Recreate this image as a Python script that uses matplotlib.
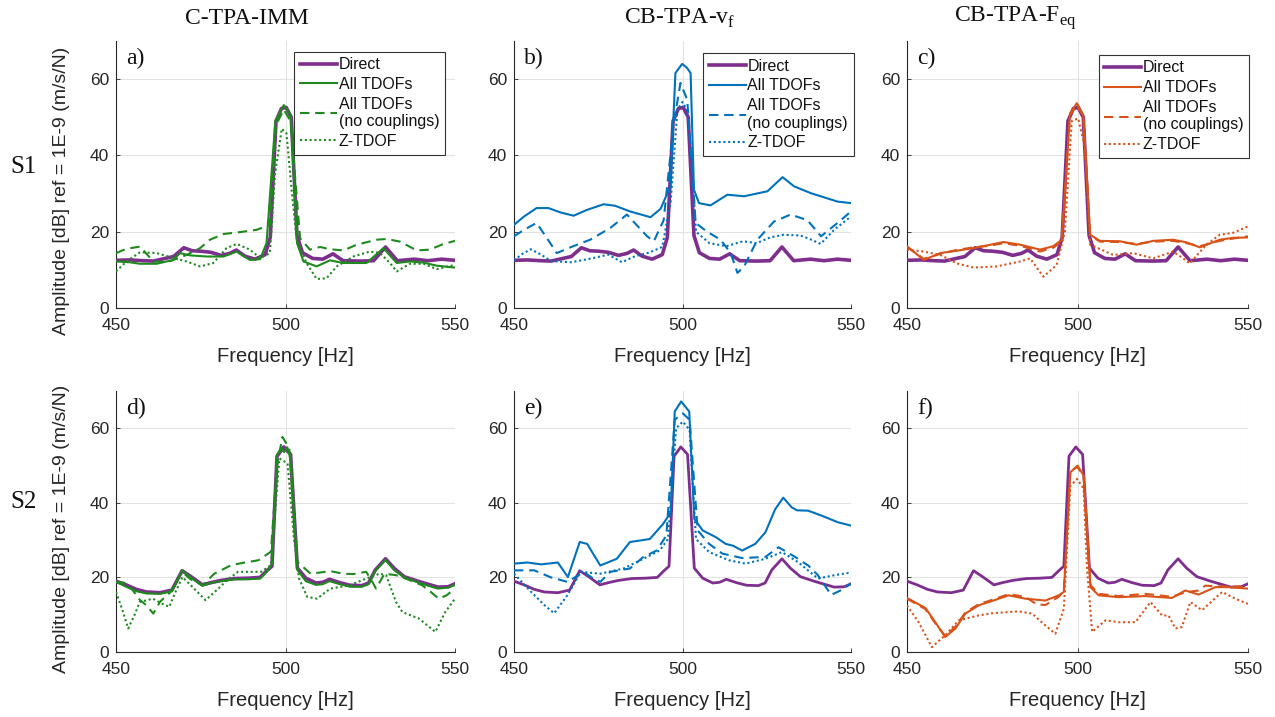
import numpy as np
import matplotlib
matplotlib.use("Agg")
import matplotlib.pyplot as plt

# ---------------- data (frequency [Hz], amplitude [dB]) ----------------
direct_s1 = [(450,12.5),(454,12.6),(458,12.4),(461,12.3),(464,12.9),(467,13.5),(470,15.8),(472.5,15.0),
             (475,14.9),(478,14.6),(481,13.8),(483.5,14.3),(485.5,15.2),(488,13.6),(491,12.8),(494,14),
             (495.5,18.5),(497.2,49),(498.8,52.3),(500.2,52.6),(501.7,50),(503.4,19),(505,14.5),(508,13),
             (511,12.8),(514,14.2),(517,12.4),(522,12.3),(526,12.4),(529.5,16.0),(533,12.4),(538,12.8),
             (542,12.4),(546,12.8),(550,12.5)]
direct_s2 = [(450,19),(453,18),(456,16.8),(459,16.1),(463,15.9),(466.5,16.6),(469.5,21.8),(472,20.3),
             (475.5,18),(478,18.6),(481,19.2),(485,19.7),(489,19.8),(492.5,20),(494.5,21.8),(496,23),
             (497.5,52.5),(499.5,55),(501.5,53),(503.5,22.5),(506,19.8),(509,18.5),(511,18.7),(513,19.5),
             (516,18.6),(519,17.9),(522.5,17.8),(524.5,18.5),(526.5,22),(529.5,25),(532,22.5),(535,20.2),
             (539,19),(542,18.2),(545,17.4),(548,17.5),(550,18.3)]

# a) C-TPA-IMM, S1
a_all = [(450,12.2),(454,12),(457,11.6),(462,11.6),(466.9,12.6),(468.9,14.4),(471.8,13.8),(476.7,13.5),
         (481.7,13.5),(485.6,14.8),(489.5,12.6),(492.5,12.8),(494.4,17),(497,49),(499.5,53.2),(501.6,50.5),
         (503.4,17),(505.3,12.2),(509.2,10.9),(513.1,12.5),(517.1,11.8),(523.9,11.8),(528.9,15.7),
         (532.8,11.8),(536.7,12.2),(540.7,11.9),(544.6,11.1),(550,10.6)]
a_nocpl = [(450,14.4),(453,15.5),(457.1,16.1),(461,12.2),(465,12),(470.8,13.9),(474.8,15.7),(477.7,17.9),
           (481.7,19.4),(486.6,19.9),(491.5,20.5),(495.4,21.8),(497.2,48),(499.5,52),(501.5,49),(504.3,18.3),
           (507.2,15.3),(510.2,16),(513.1,15.4),(517.1,15.1),(521,16.6),(526.9,17.9),(529.8,18.1),
           (533.8,17.4),(538.7,15.1),(542.6,15.3),(546.6,16.8),(550,17.6)]
a_z = [(450,9.6),(453.1,12.2),(457.1,14.6),(462,14.4),(466.9,13.1),(470.8,12.2),(474.8,10.9),(478.7,11.8),
       (482.6,15.7),(485.6,16.8),(489.5,15.3),(492.5,13.1),(495.4,14.4),(496.9,35),(498.9,47),(500.3,45.8),
       (501.8,31),(503.3,17.9),(506.2,11.8),(509.2,7.6),(512.1,7.8),(515.1,10.9),(520,13.5),(524.9,14.8),
       (527.9,14.4),(530.8,11.8),(532.8,9.6),(536.7,11.6),(540.7,11.6),(544.6,10.2),(550,11.3)]

# b) CB-TPA-vf, S1
b_all = [(450,21.8),(453,24),(456.7,26.2),(460.2,26.2),(464,25),(467.7,24.2),(471.6,25.7),(476.6,27.2),
         (480,26.8),(484.5,25.3),(490.5,23.8),(493.5,26),(496.4,31.9),(497.9,61.6),(499.9,64),(501.3,63),
         (502.4,61.6),(503.4,31),(504.9,27.5),(508.3,26.9),(513.3,29.7),(518.3,29.3),(525.2,30.6),
         (529.7,34.3),(533.1,31.9),(538.1,30.1),(546,27.9),(550,27.5)]
b_nocpl = [(450,18.8),(453,20.5),(456.7,22.3),(460,18),(462.7,14.4),(467,16),(472.6,17.9),(478.6,21),
           (483.5,24.5),(489.5,18.8),(491.5,17.5),(494.4,23),(497.4,48.5),(499.4,59),(501.4,54.6),
           (503.9,22.3),(507.3,20),(511.3,17.9),(514.3,14.4),(516.3,9.2),(518.3,10.9),(522.2,17.9),
           (527.2,22.7),(532.1,24.5),(537.1,23),(541.1,18.8),(546,22.3),(550,25.3)]
b_z = [(450,12.5),(452.5,14.2),(455,15.4),(458,14),(461,12.3),(467,12),(473,13),(478,14),(482,12),
       (486,13.6),(490,14.5),(494,16),(496.5,28),(498.5,52),(500,54),(501.3,52),(502.7,40),(504,20),
       (508,17),(513,16.2),(518,17.5),(522,17),(526,18.5),(530,19.2),(535,19),(538,18),(541,16.8),
       (545,20.5),(550,24)]

# c) CB-TPA-Feq, S1
c_all = [(450,16.2),(454.9,12.6),(459.8,14.4),(464.5,15),(469.5,15.7),(474,16.5),(478.3,17.3),
         (483.2,16.6),(489,15.3),(492.9,16.2),(495.4,17.9),(497.8,51),(499.8,53.7),(501.7,50.6),
         (503.7,19.2),(506.6,17.6),(512.4,17.5),(517.3,16.6),(522.2,17.6),(528,17.9),(532,17.2),
         (535.9,15.9),(541.7,17.9),(545.6,18.4),(550,18.5)]
c_nocpl = [(450,16),(454.9,12.9),(459.8,14.2),(464.5,15.2),(469.5,15.9),(474,16.3),(478.3,17),
           (483.2,16.3),(489,14.8),(492.9,15.8),(495.4,17.5),(497.8,50.5),(499.8,53.2),(501.7,50.2),
           (503.7,19),(506.6,17.4),(512.4,17.3),(517.3,16.8),(522.2,17.4),(528,17.6),(532,17),
           (535.9,16.2),(541.7,17.6),(545.6,18.2),(550,18.8)]
c_z = [(450,15.3),(454.9,14.8),(459.8,13.9),(464.6,11.7),(469.5,10.6),(476.3,10.9),(483.2,12.2),
       (486.1,13),(490,8.2),(493.9,11.3),(496.3,20),(498.3,49),(500.2,49.7),(502.2,42),(503.7,16.6),
       (510.5,13.9),(516.3,14.4),(522.2,13),(528,14.8),(531,13),(532.9,11.7),(537.8,16.6),
       (541.7,19.2),(545.6,19.7),(550,21.4)]

# d) C-TPA-IMM, S2
d_all = [(450,18.8),(453,17.5),(456,16.3),(459,15.7),(463,15.6),(466.5,16.3),(469.5,21.9),(472,20),
         (475.5,17.8),(478,18.5),(481,19),(485,19.5),(489,19.5),(492.5,19.7),(494.5,21.6),(496,23.5),
         (497.5,52.8),(498.7,54.8),(499.6,53.6),(500.5,54.9),(501.6,52),(503.5,22),(506,19),(509,18),
         (511,18.2),(513,19),(516,18.2),(519,17.5),(522.5,17.5),(524.5,18.2),(526.5,21.8),(529.5,24.7),
         (532,22),(535,20),(539,18.7),(542,17.8),(545,17),(548,17.3),(550,18)]
d_nocpl = [(450,18.8),(453,18.5),(455,16.5),(457,14),(459,12.5),(461,10.3),(463,13.5),(466,16),
           (469.5,21.5),(472,19.5),(475.5,17.9),(479,21),(484,23.3),(488,24),(492,24.6),(495.7,26.9),
           (497.5,50),(499.1,57.7),(501.1,54.6),(503.5,24.2),(507.4,21),(510,21.3),(513.2,21.7),(517,21),
           (520,20.9),(523.8,21.5),(525.5,19),(526.7,17),(529.2,21),(532.6,20.6),(536,19.5),(540.3,17.9),
           (543,16),(545.2,14.3),(547.5,15.2),(550,17)]
d_z = [(450,16.1),(452,11),(453.6,6.3),(455.5,10),(457,13.4),(460.9,14.3),(463.5,13),(465.7,12.1),
       (467.5,16),(469.6,20.1),(472.5,17.5),(476.4,13.9),(480.2,17),(483,19.5),(486,21.5),(492.8,21.5),
       (495.7,23.3),(498.2,51.9),(500.6,50.6),(502.5,30.4),(504,19.7),(506.4,14.8),(509.3,14.3),
       (513.2,17),(519,17.9),(523.8,19.7),(527.7,21),(529.7,20.6),(532.6,13.4),(534.5,10.7),(539.3,9),
       (544.2,5.4),(547.1,10.7),(550,14.3)]

# e) CB-TPA-vf, S2
e_all = [(450,23.7),(454,24),(458,23.5),(463,24),(466,20.1),(469.5,29.5),(471.7,29),(475.6,23.2),
         (480.5,25),(484.4,29.5),(487.4,29.9),(490.3,30.3),(494.2,34.3),(496.5,37.4),(497.7,64.5),
         (499.6,67.2),(502,64.5),(503.5,35.7),(506,32.6),(509.9,30.8),(512.8,29),(515,28.5),(517.7,27.2),
         (521.6,29),(524.6,32.1),(527.5,38.3),(529.9,41.4),(532.4,38.8),(534,38),(537.3,37.9),
         (541.2,36.6),(546.1,34.8),(550,33.9)]
e_nocpl = [(450,21.9),(456,21.9),(461,20),(465.9,18.8),(468,20),(470.7,21.5),(473,20),(475.6,18.8),
           (478.6,21.5),(484.4,22.4),(488.4,25.5),(492.3,27.2),(495.2,31.2),(497.7,62.3),(500.1,64),
           (502.1,62.3),(504.5,32.6),(507.9,29),(511.8,26.4),(517.7,25.2),(524.6,25.5),(528.5,28.1),
           (533.4,25.5),(537.3,23.2),(540.2,20.6),(544.1,15.3),(547.1,16.6),(550,18.4)]
e_z = [(450,21),(455.1,16.1),(459,12.6),(461.9,10.4),(465.9,15.3),(469.8,21.5),(475.6,21),(482.5,22.4),
       (488.4,25),(493.2,27.2),(495.7,30.3),(498.1,60),(500.1,61.8),(502.1,59.6),(504,30.3),(507.9,26.8),
       (513.8,24.6),(518.7,23.7),(524.6,25),(529.5,26.8),(534.3,24.1),(540.2,19.7),(545.1,20.6),(550,21.3)]

# f) CB-TPA-Feq, S2
f_all = [(450,14.5),(455.4,11.8),(458.3,8),(461.2,4),(464.2,6.3),(467.1,10.3),(471,12.5),(475,13.7),
         (479.8,15.2),(484.7,14.3),(490.6,13.8),(494.5,15.2),(496,16.1),(497.9,48.2),(500,50),(501.8,47.3),
         (503.8,17.4),(506.2,15.2),(512.1,14.7),(519.9,15),(527.7,14.5),(531.6,16.5),(535.5,15.4),
         (540.4,17.4),(544.3,17.4),(550,17)]
f_nocpl = [(450,14.3),(455.4,11.5),(458.3,7.7),(461.2,4.3),(464.2,6.8),(467.1,10.6),(471,12.8),(475,14),
           (479.8,15.5),(484.7,14.8),(488,12.8),(490.6,12.6),(494.5,14.8),(496,16.5),(497.9,48.5),
           (500,49.6),(501.8,47),(503.8,18),(506.2,15.6),(512.1,15),(519.9,15.6),(527.7,14.8),(531.6,16),
           (535.5,16.5),(537.5,17.8),(540.4,17.6),(544.3,17.6),(550,17.5)]
f_z = [(450,12.5),(453.4,8),(457.3,1.3),(461.2,4.5),(465.2,8.5),(471,9.8),(475,10.4),(482.7,10.9),
       (486.7,10.3),(490.6,7.1),(493.5,4.9),(496,11.6),(497.9,44.6),(499.9,46.4),(501.8,43.8),
       (502.8,22.3),(504.3,5.4),(508.2,8.5),(512.1,8),(517,8),(521.4,13.4),(524.8,9.8),(526.7,9.8),
       (528.7,6.3),(530.6,6.7),(533.1,13.4),(536.5,11.2),(542.4,16.1),(546.3,14.3),(550,12.9)]

titles = ["C-TPA-IMM", r"CB-TPA-v$_\mathregular{f}$", r"CB-TPA-F$_\mathregular{eq}$"]
rows = ["S1", "S2"]
letters = ["a)", "b)", "c)", "d)", "e)", "f)"]
legend_labels = ["Direct", "All TDOFs", "All TDOFs\n(no couplings)", "Z-TDOF"]
x_ticks = [450, 500, 550]
y_ticks = [0, 20, 40, 60]

PURPLE = "#7E2F8E"
colors = ["#1E8A1E", "#0072BD", "#D95319"]

panels = [
    [(a_all, a_nocpl, a_z), (b_all, b_nocpl, b_z), (c_all, c_nocpl, c_z)],
    [(d_all, d_nocpl, d_z), (e_all, e_nocpl, e_z), (f_all, f_nocpl, f_z)],
]
directs = [direct_s1, direct_s2]

# ---------------- figure ----------------
plt.rcParams["font.family"] = ["Liberation Sans", "DejaVu Sans"]
plt.rcParams["mathtext.fontset"] = "custom"
plt.rcParams["mathtext.rm"] = "Liberation Serif"

W, H = 1275, 717
fig = plt.figure(figsize=(W / 100, H / 100), dpi=100)
fig.patch.set_facecolor("white")

col_px = [(116, 455), (514, 851), (907, 1248)]
row_px = [(41, 308), (391, 652)]
SPINE = "#262626"
SERIF = ["Liberation Serif", "DejaVu Serif"]

def arr(pairs):
    a = np.array(pairs, dtype=float)
    return a[:, 0], a[:, 1]

legend_anchor = [(0.97, 0.96), (1.008, 0.955), (1.003, 0.948)]

for r in range(2):
    for c in range(3):
        x0, x1 = col_px[c]
        y0, y1 = row_px[r]
        ax = fig.add_axes([x0 / W, 1 - y1 / H, (x1 - x0) / W, (y1 - y0) / H])
        ax.set_xlim(450, 550)
        ax.set_ylim(0, 70)
        ax.set_xticks(x_ticks)
        ax.set_yticks(y_ticks)
        ax.grid(True, color="#e3e3e3", lw=0.8)
        ax.set_axisbelow(True)
        for s in ["top", "right"]:
            ax.spines[s].set_visible(False)
        for s in ["left", "bottom"]:
            ax.spines[s].set_color(SPINE)
            ax.spines[s].set_linewidth(0.8)
        ax.tick_params(direction="in", length=3, width=0.6, colors=SPINE,
                       labelsize=12.5, labelcolor=SPINE)
        ax.tick_params(axis="x", pad=7)
        ax.tick_params(axis="y", pad=5)

        col = colors[c]
        all_v, nocpl_v, z_v = panels[r][c]
        lwd = 2.6 if (r == 0 or c == 0) else 2.0
        h_direct, = ax.plot(*arr(directs[r]), color=PURPLE, lw=lwd, zorder=3)
        h_all, = ax.plot(*arr(all_v), color=col, lw=1.5, zorder=4)
        h_nc, = ax.plot(*arr(nocpl_v), color=col, lw=1.5, ls=(0, (4.5, 2.8)), zorder=4)
        h_z, = ax.plot(*arr(z_v), color=col, lw=1.5, ls=(0, (1, 1.3)), zorder=4)

        ax.text(0.03, 0.935, letters[r * 3 + c], transform=ax.transAxes,
                fontsize=17, family=SERIF, ha="left", va="center", color="#111111")

        ax.set_xlabel("Frequency [Hz]", fontsize=14.5, color=SPINE)
        ax.xaxis.set_label_coords(0.5, -0.18 if r == 0 else -0.185)
        ax.xaxis.label.set_va("center")
        if c == 0:
            ax.set_ylabel("Amplitude [dB] ref = 1E-9 (m/s/N)", fontsize=14, color=SPINE)
            ax.yaxis.set_label_coords((62 - x0) / (x1 - x0),
                                      0.44 if r == 0 else 0.47)
            ax.yaxis.label.set_va("center")

        if r == 0:
            leg = ax.legend([h_direct, h_all, h_nc, h_z], legend_labels,
                            loc="upper right", bbox_to_anchor=legend_anchor[c],
                            fontsize=11.5, frameon=True, fancybox=False,
                            edgecolor="#333333", framealpha=1,
                            handlelength=2.3, handletextpad=0.12,
                            labelspacing=0.3, borderpad=0.35, borderaxespad=0.0)
            leg.get_frame().set_linewidth(0.8)
            for t in leg.get_texts():
                t.set_color("#111111")

for c in range(3):
    cx = [247, 680, 1015][c]
    fig.text(cx / W, 1 - 18 / H, titles[c], fontsize=17, family=SERIF,
             ha="center", va="center", color="#111111")

for r in range(2):
    cy = [167, 502][r]
    fig.text(24 / W, 1 - cy / H, rows[r], fontsize=18, family=SERIF,
             ha="center", va="center", color="#111111")

fig.savefig("out.png", dpi=100, facecolor="white")
